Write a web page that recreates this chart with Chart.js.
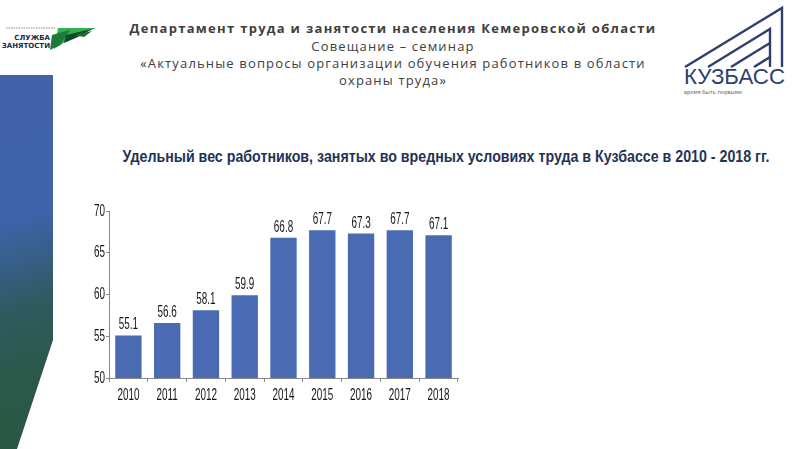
<!DOCTYPE html>
<html><head><meta charset="utf-8">
<script src="https://cdn.jsdelivr.net/npm/chart.js@4/dist/chart.umd.min.js"></script>
<style>
html,body{margin:0;padding:0;background:#fff;width:800px;height:449px;overflow:hidden;position:relative;font-family:"Open Sans","DejaVu Sans",sans-serif;}
#band{position:absolute;left:0;top:75px;width:53px;height:374px;clip-path:polygon(0 0,53px 0,53px 265px,17px 374px,0 374px);
background:linear-gradient(163deg,#4262aa 0%,#3f63aa 38%,#2f5a5e 62%,#2b5848 80%,#2b5746 100%);}
.hdr{position:absolute;left:100px;width:586px;text-align:center;color:#404040;font-size:13px;letter-spacing:1.15px;}
#title{position:absolute;left:446px;top:147px;white-space:nowrap;font-family:"Liberation Sans",Arial,sans-serif;font-weight:bold;font-size:16.5px;color:#1f3358;transform-origin:0 50%;}
#wrap{position:absolute;left:60px;top:195px;width:410px;height:215px;}
</style></head><body>
<div id="band"></div>
<svg style="position:absolute;left:0;top:15px" width="100" height="40" viewBox="0 0 100 40">
  <line x1="6" y1="13" x2="55" y2="13" stroke="#8a8a8a" stroke-width="1" stroke-dasharray="1.5,1"/>
  <text x="50" y="25" text-anchor="end" font-family="DejaVu Sans,sans-serif" font-weight="bold" font-size="7" fill="#1b2a4a">СЛУЖБА</text>
  <text x="50" y="32.5" text-anchor="end" font-family="DejaVu Sans,sans-serif" font-weight="bold" font-size="7" fill="#1b2a4a">ЗАНЯТОСТИ</text>
  <polygon points="58,13 96,13 70,24 54,34" fill="#33b04f"/>
  <polygon points="52,20 70,15 60,30 50,35" fill="#1b7a3a"/>
  <polygon points="66,20 92,14 78,22 64,28" fill="#0f4a2a"/>
  <polygon points="74,20 92,16 84,22" fill="#1d6a3a"/>
</svg>
<div class="hdr" style="top:19px;font-weight:bold;letter-spacing:1.3px;">Департамент труда и занятости населения Кемеровской области</div>
<div class="hdr" style="top:37px;">Совещание – семинар</div>
<div class="hdr" style="top:54px;">«Актуальные вопросы организации обучения работников в области</div>
<div class="hdr" style="top:71px;">охраны труда»</div>
<svg style="position:absolute;left:676px;top:5px" width="118" height="95" viewBox="0 0 118 95">
  <g stroke="#2e3f6e" stroke-width="2.4" fill="none" stroke-linejoin="miter">
    <polyline points="9,62 106,3 106,62"/>
    <polyline points="32,62 94,24 94,62"/>
    <line x1="55" y1="62" x2="94" y2="38"/>
    <line x1="78" y1="62" x2="94" y2="52"/>
  </g>
  <text x="8" y="79" font-family="Liberation Sans,sans-serif" font-size="22" fill="#2e3f6e" textLength="101" lengthAdjust="spacingAndGlyphs">КУЗБАСС</text>
  <text x="8" y="89" font-family="DejaVu Sans,sans-serif" font-size="5.5" fill="#666" textLength="58" lengthAdjust="spacingAndGlyphs">время быть первыми</text>
</svg>
<span id="title">Удельный вес работников, занятых во вредных условиях труда в Кузбассе в 2010 - 2018 гг.</span>
<div id="wrap"><canvas id="c"></canvas></div>
<script>
const categories = ["2010","2011","2012","2013","2014","2015","2016","2017","2018"];
const values = [55.1, 56.6, 58.1, 59.9, 66.8, 67.7, 67.3, 67.7, 67.1];
const yTicks = [50, 55, 60, 65, 70];

(function(){
  const t = document.getElementById('title');
  const w = t.getBoundingClientRect().width;
  const k = 647 / w;
  t.style.transform = 'translateX(' + (-323.5) + 'px) scaleX(' + k + ')';
})();

const FONT = '16.5px "Liberation Sans",Arial,sans-serif';
const SX = 0.6;
function condText(ctx, text, x, y, align, baseline) {
  ctx.save();
  ctx.translate(x, y);
  ctx.scale(SX, 1);
  ctx.font = FONT;
  ctx.fillStyle = '#151515';
  ctx.textAlign = align;
  ctx.textBaseline = baseline;
  ctx.fillText(text, 0, 0);
  ctx.restore();
}
const textPlugin = {
  id: 'condText',
  afterDraw(chart) {
    const ctx = chart.ctx;
    const xs = chart.scales.x, ys = chart.scales.y;
    categories.forEach((c, i) => {
      condText(ctx, c, xs.getPixelForTick(i), xs.top + 17, 'center', 'middle');
    });
    yTicks.forEach(v => {
      condText(ctx, String(v), ys.right - 4, ys.getPixelForValue(v), 'right', 'middle');
    });
    chart.getDatasetMeta(0).data.forEach((bar, i) => {
      condText(ctx, values[i].toFixed(1), bar.x, bar.y - 6, 'center', 'alphabetic');
    });
  }
};

new Chart(document.getElementById('c'), {
  type: 'bar',
  data: {
    labels: categories,
    datasets: [{
      data: values,
      backgroundColor: '#4a6bb4',
      borderWidth: 0,
      categoryPercentage: 1.0,
      barPercentage: 0.68
    }]
  },
  options: {
    responsive: true,
    maintainAspectRatio: false,
    animation: false,
    layout: { padding: { left: 0, right: 12, top: 16, bottom: 0 } },
    plugins: { legend: { display: false }, tooltip: { enabled: false } },
    scales: {
      x: {
        offset: true,
        afterFit(s) { s.height = 32; },
        grid: { display: true, drawOnChartArea: false, offset: true, tickLength: 4, color: '#888' },
        border: { display: true, color: '#888', width: 1 },
        ticks: { display: false, autoSkip: false }
      },
      y: {
        min: 50, max: 70,
        afterFit(s) { s.width = 49; },
        afterBuildTicks(axis) { axis.ticks = yTicks.map(v => ({ value: v })); },
        grid: { display: true, drawOnChartArea: false, tickLength: 3, color: '#888' },
        border: { display: true, color: '#888', width: 1 },
        ticks: { display: false }
      }
    }
  },
  plugins: [textPlugin]
});
</script>
</body></html>
